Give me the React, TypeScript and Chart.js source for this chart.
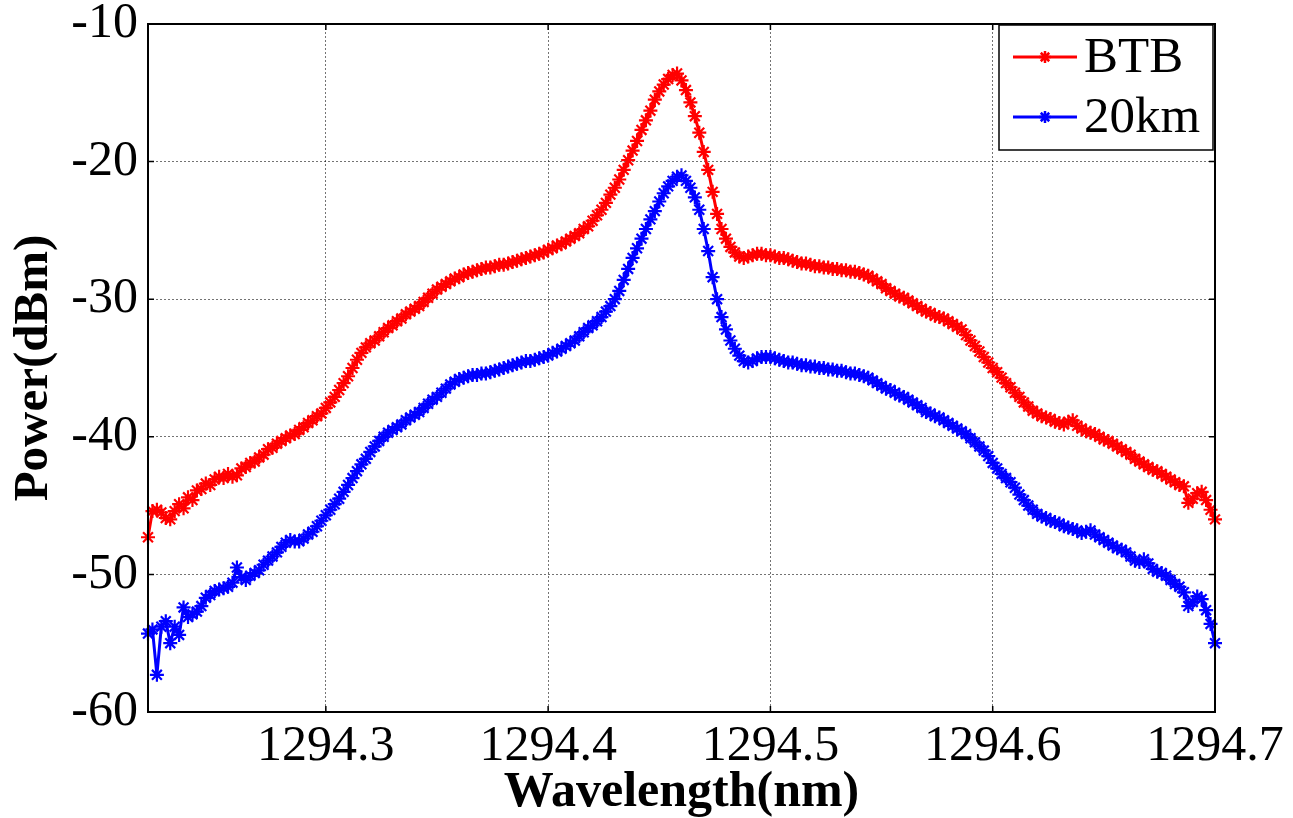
import React, { useEffect, useRef } from 'react';
import { Chart, registerables } from 'chart.js';

Chart.register(...registerables);

// Sampling grid of the optical spectrum analyser (nm)
const WL_START = 1294.22;
const WL_STEP = 0.002;

// BTB power (dBm), one value per sample
const btbPower = [
  -47.3, -45.4, -45.3, -45.5, -45.9, -46.0, -45.4, -44.9, -45.2, -44.4,
  -44.6, -43.9, -43.8, -43.4, -43.5, -43.1, -42.9, -43.0, -42.7, -42.9,
  -42.8, -42.3, -42.2, -41.9, -41.8, -41.5, -41.3, -40.9, -40.8, -40.5,
  -40.3, -40.1, -39.9, -39.8, -39.5, -39.3, -39.0, -38.8, -38.5, -38.3,
  -37.9, -37.5, -37.1, -36.6, -36.1, -35.6, -35.0, -34.4, -33.9, -33.5,
  -33.2, -33.0, -32.7, -32.4, -32.1, -31.9, -31.6, -31.4, -31.1, -30.9,
  -30.7, -30.5, -30.2, -29.9, -29.6, -29.3, -29.1, -28.9, -28.7, -28.5,
  -28.4, -28.2, -28.1, -28.0, -27.9, -27.8, -27.7, -27.7, -27.6, -27.5,
  -27.5, -27.4, -27.3, -27.2, -27.1, -27.0, -26.9, -26.8, -26.7, -26.6,
  -26.4, -26.3, -26.1, -26.0, -25.8, -25.6, -25.4, -25.2, -24.9, -24.7,
  -24.3, -23.9, -23.5, -23.0, -22.4, -21.9, -21.3, -20.6, -19.9, -19.2,
  -18.5, -17.7, -17.0, -16.3, -15.5, -14.9, -14.4, -14.0, -13.7, -13.6,
  -14.1, -14.8, -15.7, -16.7, -17.9, -19.3, -20.6, -22.2, -23.8, -24.9,
  -25.6, -26.2, -26.6, -26.9, -27.0, -26.9, -26.8, -26.7, -26.7, -26.8,
  -26.8, -26.9, -27.0, -27.0, -27.1, -27.2, -27.3, -27.4, -27.4, -27.5,
  -27.6, -27.6, -27.7, -27.7, -27.8, -27.8, -27.9, -27.9, -28.0, -28.0,
  -28.1, -28.2, -28.3, -28.5, -28.7, -28.9, -29.2, -29.4, -29.6, -29.8,
  -29.9, -30.1, -30.3, -30.5, -30.7, -30.9, -31.0, -31.2, -31.3, -31.4,
  -31.6, -31.8, -32.0, -32.2, -32.6, -33.0, -33.4, -33.8, -34.2, -34.6,
  -35.0, -35.3, -35.7, -36.1, -36.4, -36.8, -37.1, -37.5, -37.8, -38.1,
  -38.3, -38.5, -38.6, -38.7, -38.9, -39.0, -39.1, -38.9, -38.8, -39.2,
  -39.4, -39.6, -39.7, -39.8, -40.0, -40.2, -40.3, -40.5, -40.7, -40.9,
  -41.1, -41.3, -41.6, -41.8, -42.0, -42.2, -42.4, -42.5, -42.7, -42.9,
  -43.1, -43.3, -43.5, -43.6, -44.8, -44.5, -44.1, -44.0, -44.6, -45.3,
  -46.0,
];

// 20 km power (dBm), one value per sample
const km20Power = [
  -54.3, -54.0, -57.3, -53.8, -53.4, -55.0, -53.8, -54.4, -52.4, -53.1,
  -52.9, -52.7, -52.3, -51.7, -51.5, -51.2, -51.1, -51.0, -50.9, -50.6,
  -49.5, -50.2, -50.4, -50.1, -49.9, -49.7, -49.3, -49.0, -48.7, -48.4,
  -48.0, -47.7, -47.5, -47.6, -47.6, -47.4, -47.1, -46.9, -46.5, -46.1,
  -45.7, -45.3, -44.9, -44.5, -44.0, -43.5, -43.0, -42.5, -42.0, -41.6,
  -41.1, -40.7, -40.3, -40.0, -39.7, -39.5, -39.3, -39.1, -38.8, -38.6,
  -38.4, -38.2, -37.9, -37.6, -37.3, -37.1, -36.8, -36.5, -36.2, -36.0,
  -35.8, -35.7, -35.6, -35.5, -35.5, -35.4, -35.4, -35.3, -35.2, -35.1,
  -35.0, -34.9, -34.8, -34.7, -34.6, -34.5, -34.5, -34.4, -34.3, -34.2,
  -34.1, -33.9, -33.8, -33.6, -33.4, -33.2, -33.0, -32.7, -32.4, -32.1,
  -31.9, -31.6, -31.3, -30.9, -30.5, -30.0, -29.4, -28.6, -27.8, -27.0,
  -26.3, -25.6, -24.9, -24.2, -23.6, -22.9, -22.3, -21.8, -21.4, -21.1,
  -21.0, -21.4, -21.9, -22.6, -23.5, -24.9, -26.5, -28.4, -30.0, -31.3,
  -32.2, -33.0, -33.6, -34.1, -34.5, -34.6, -34.5, -34.3, -34.2, -34.2,
  -34.2, -34.3, -34.4, -34.5, -34.6, -34.6, -34.7, -34.8, -34.8, -34.9,
  -34.9, -35.0, -35.0, -35.1, -35.1, -35.2, -35.2, -35.3, -35.4, -35.4,
  -35.5, -35.6, -35.7, -35.9, -36.1, -36.3, -36.5, -36.6, -36.8, -37.0,
  -37.1, -37.3, -37.5, -37.7, -37.9, -38.2, -38.3, -38.5, -38.6, -38.8,
  -39.0, -39.2, -39.4, -39.6, -39.8, -40.1, -40.4, -40.7, -41.0, -41.4,
  -41.9, -42.3, -42.7, -43.0, -43.3, -43.7, -44.2, -44.6, -45.0, -45.3,
  -45.6, -45.8, -45.9, -46.1, -46.2, -46.3, -46.5, -46.6, -46.7, -46.8,
  -47.0, -46.9, -46.8, -47.1, -47.3, -47.5, -47.7, -47.9, -48.1, -48.2,
  -48.4, -48.7, -49.0, -49.1, -48.9, -49.2, -49.6, -49.8, -49.9, -50.1,
  -50.4, -50.7, -50.9, -51.3, -52.3, -52.0, -51.6, -51.8, -52.6, -53.6,
  -55.0,
];

const seriesLabels = ['BTB', '20km'];
const seriesColors = ['#ff0000', '#0000ff'];
const xTicks = [1294.3, 1294.4, 1294.5, 1294.6, 1294.7];
const xRange = [1294.22, 1294.7];
const yRange = [-60, -10];
const yStep = 10;

const FONT = '"Liberation Serif", "Times New Roman", serif';

function toPoints(values: number[]) {
  return values.map((v, i) => ({ x: WL_START + i * WL_STEP, y: v }));
}

function drawStar(ctx: CanvasRenderingContext2D, x: number, y: number, r: number) {
  const d = r * Math.SQRT1_2;
  ctx.beginPath();
  ctx.moveTo(x - r, y);
  ctx.lineTo(x + r, y);
  ctx.moveTo(x, y - r);
  ctx.lineTo(x, y + r);
  ctx.moveTo(x - d, y - d);
  ctx.lineTo(x + d, y + d);
  ctx.moveTo(x - d, y + d);
  ctx.lineTo(x + d, y - d);
  ctx.stroke();
}

const framePlugin = {
  id: 'matlabFrame',
  afterDraw(chart: any) {
    const { ctx, chartArea } = chart;
    const { left, right, top, bottom } = chartArea;
    const xs = chart.scales.x;
    const ys = chart.scales.y;
    const tl = 6;
    ctx.save();
    ctx.strokeStyle = '#000';
    ctx.lineWidth = 1.5;
    ctx.beginPath();
    xs.ticks.forEach((t: any) => {
      const px = xs.getPixelForValue(t.value);
      ctx.moveTo(px, bottom);
      ctx.lineTo(px, bottom - tl);
      ctx.moveTo(px, top);
      ctx.lineTo(px, top + tl);
    });
    ys.ticks.forEach((t: any) => {
      const py = ys.getPixelForValue(t.value);
      ctx.moveTo(left, py);
      ctx.lineTo(left + tl, py);
      ctx.moveTo(right, py);
      ctx.lineTo(right - tl, py);
    });
    ctx.stroke();
    ctx.lineWidth = 2;
    ctx.strokeRect(left, top, right - left, bottom - top);
    ctx.restore();
  },
};

const legendPlugin = {
  id: 'insideLegend',
  afterDraw(chart: any) {
    const { ctx, chartArea } = chart;
    const w = 214;
    const h = 125;
    const x0 = chartArea.right - w - 2;
    const y0 = chartArea.top + 1;
    ctx.save();
    ctx.fillStyle = '#fff';
    ctx.fillRect(x0, y0, w, h);
    ctx.strokeStyle = '#000';
    ctx.lineWidth = 1.5;
    ctx.strokeRect(x0, y0, w, h);
    ctx.font = `51px ${FONT}`;
    ctx.textBaseline = 'middle';
    ctx.textAlign = 'left';
    chart.data.datasets.forEach((ds: any, i: number) => {
      const cy = y0 + 32 + i * 60;
      ctx.strokeStyle = ds.borderColor;
      ctx.lineWidth = 3;
      ctx.beginPath();
      ctx.moveTo(x0 + 14, cy);
      ctx.lineTo(x0 + 78, cy);
      ctx.stroke();
      ctx.lineWidth = 2.5;
      drawStar(ctx, x0 + 46, cy, 6);
      ctx.fillStyle = '#000';
      ctx.fillText(ds.label, x0 + 85, cy + 2);
    });
    ctx.restore();
  },
};

export default function App() {
  const canvasRef = useRef<HTMLCanvasElement | null>(null);

  useEffect(() => {
    document.body.style.margin = '0';
    document.body.style.overflow = 'hidden';
    const canvas = canvasRef.current;
    if (!canvas) return;
    const seriesValues = [btbPower, km20Power];
    const chart = new Chart(canvas, {
      type: 'line',
      data: {
        datasets: seriesValues.map((vals, i) => ({
          label: seriesLabels[i],
          data: toPoints(vals),
          borderColor: seriesColors[i],
          backgroundColor: seriesColors[i],
          borderWidth: 3,
          pointStyle: 'star',
          pointRadius: 7,
          pointBorderWidth: 2.2,
          pointBorderColor: seriesColors[i],
          tension: 0,
          fill: false,
          clip: false,
        })),
      },
      options: {
        responsive: true,
        maintainAspectRatio: false,
        animation: false,
        events: [],
        layout: { padding: { left: 0, top: 24, right: 78, bottom: 0 } },
        plugins: {
          legend: { display: false },
          tooltip: { enabled: false },
        },
        scales: {
          x: {
            type: 'linear',
            min: xRange[0],
            max: xRange[1],
            afterBuildTicks: (s: any) => {
              s.ticks = xTicks.map((v) => ({ value: v }));
            },
            afterFit: (s: any) => {
              s.height = 106;
              s.paddingLeft = 0;
              s.paddingRight = 0;
            },
            grid: { color: 'rgba(0,0,0,0.55)', lineWidth: 1, drawTicks: false },
            border: { display: false, dash: [2, 2] },
            ticks: {
              color: '#000',
              font: { family: FONT, size: 50, lineHeight: 1 },
              padding: 10,
              maxRotation: 0,
              autoSkip: false,
              callback: (v: any) => Number(v).toFixed(1),
            },
            title: {
              display: true,
              text: 'Wavelength(nm)',
              color: '#000',
              font: { family: FONT, size: 50, weight: 'bold', lineHeight: 1 },
              padding: { top: 0, bottom: 0 },
            },
          },
          y: {
            min: yRange[0],
            max: yRange[1],
            ticks: {
              stepSize: yStep,
              color: '#000',
              font: { family: FONT, size: 50, lineHeight: 1 },
              padding: 10,
              callback: (v: any) => String(v),
            },
            afterFit: (s: any) => {
              s.width = 148;
              s.paddingTop = 0;
              s.paddingBottom = 0;
            },
            grid: { color: 'rgba(0,0,0,0.55)', lineWidth: 1, drawTicks: false },
            border: { display: false, dash: [2, 2] },
            title: {
              display: true,
              text: 'Power(dBm)',
              color: '#000',
              font: { family: FONT, size: 49, weight: 'bold', lineHeight: 1 },
              padding: { top: 10, bottom: 0 },
            },
          },
        },
      },
      plugins: [framePlugin, legendPlugin],
    });
    return () => chart.destroy();
  }, []);

  return (
    <div style={{ position: 'absolute', left: 0, top: 0, width: 1293, height: 818 }}>
      <canvas ref={canvasRef} />
    </div>
  );
}
